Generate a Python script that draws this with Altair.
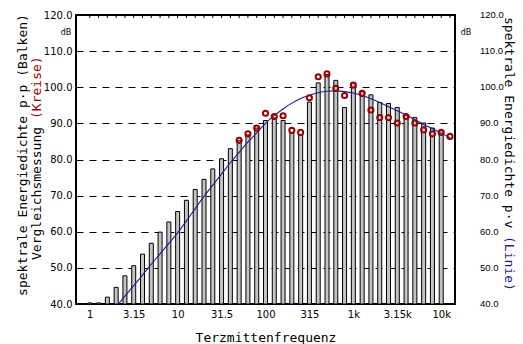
import altair as alt
import pandas as pd

# third-octave band index 0 = 1 Hz ... 40 = 10 kHz
x_tick_labels = ["1", "3.15", "10", "31.5", "100", "315", "1k", "3.15k", "10k"]
x_tick_values = [0, 5, 10, 15, 20, 25, 30, 35, 40]
y_tick_values = [40, 50, 60, 70, 80, 90, 100, 110, 120]

bar_idx = list(range(0, 41))
bar_db = [40.3, 40.3, 41.9, 44.6, 47.8, 50.6, 53.8, 56.8, 59.9, 62.7,
          65.6, 68.7, 71.7, 74.5, 77.4, 80.2, 83.0, 85.2, 86.8, 88.7,
          90.8, 91.5, 90.8, 87.3, 86.8, 95.9, 101.2, 103.5, 101.9, 94.4,
          101.3, 98.8, 97.9, 95.8, 95.5, 94.4, 92.3, 91.6, 90.1, 88.7,
          88.0]

circle_idx = list(range(17, 42))
circle_db = [85.3, 87.1, 88.7, 92.8, 91.9, 92.1, 88.1, 87.5, 97.1, 102.9,
             103.7, 99.7, 97.7, 100.6, 98.3, 93.7, 91.6, 91.6, 90.1, 91.9,
             90.1, 88.2, 87.1, 87.5, 86.4]

line_idx = list(range(3, 42))
line_db = [39.2, 42.2, 45.1, 48.0, 51.0, 53.9, 56.8, 59.7, 63.0, 66.4,
           69.8, 72.9, 76.0, 79.1, 82.0, 84.8, 87.4, 90.0, 92.2, 94.0,
           95.6, 96.9, 97.8, 98.5, 98.9, 99.0, 98.8, 98.4, 97.7, 96.8,
           95.8, 94.6, 93.5, 92.3, 91.0, 89.7, 88.5, 87.3, 86.0]

top_tick_idx = list(range(0, 42))

bars_df = pd.DataFrame({"idx": bar_idx, "db": bar_db, "base": [40.0] * len(bar_idx)})
circ_df = pd.DataFrame({"idx": circle_idx, "db": circle_db})
line_df = pd.DataFrame({"idx": line_idx, "db": line_db})
ticks_df = pd.DataFrame({"idx": top_tick_idx})
ylab_df = pd.DataFrame({"db": y_tick_values, "lab": ["%.1f" % v for v in y_tick_values]})
one = pd.DataFrame({"a": [0]})

XDOM = [-1, 41]
YDOM = [40, 120]
MONO = "DejaVu Sans Mono"
LBL = "DejaVu Sans"
RED = "#990000"
BLUE = "#1c1c96"

label_expr = "[" + ",".join('"%s"' % s for s in x_tick_labels) + "][round(datum.value/5)]"

xaxis = alt.Axis(values=x_tick_values, labelExpr=label_expr, domain=False,
                 ticks=False, grid=False, labelFont=LBL, labelFontSize=10,
                 labelColor="black", labelPadding=5,
                 title="Terzmittenfrequenz", titleFont=MONO, titleFontSize=13,
                 titleFontWeight="normal", titleColor="black", titlePadding=12)
yaxis = alt.Axis(values=y_tick_values, format=".1f", orient="left",
                 domain=False, ticks=False, grid=True, gridColor="black",
                 gridDash=[7, 6], gridWidth=1, labelFont=LBL, labelFontSize=10,
                 labelColor="black", labelPadding=4, labelOverlap=False, title=None)


def xenc():
    return alt.X("idx:Q", scale=alt.Scale(domain=XDOM, nice=False, zero=False), axis=xaxis)


def yenc():
    return alt.Y("db:Q", scale=alt.Scale(domain=YDOM, nice=False, zero=False), axis=yaxis)


bars = alt.Chart(bars_df).mark_bar(size=4, fill="#c4c4c4", stroke="black", strokeWidth=1).encode(
    x=xenc(), y=yenc(), y2="base:Q",
)

line = alt.Chart(line_df).mark_line(color=BLUE, strokeWidth=1.1, clip=True, interpolate="monotone").encode(
    x=xenc(), y=yenc(),
)

circles = alt.Chart(circ_df).mark_point(shape="circle", filled=False, stroke=RED,
                                        strokeWidth=2, size=26, opacity=1).encode(
    x=xenc(), y=yenc(),
)

top_ticks = alt.Chart(ticks_df).mark_rule(color="black", strokeWidth=1).encode(
    x=xenc(), y=alt.value(0), y2=alt.value(3)
)

# right-hand value labels (same dB scale)
right_labels = alt.Chart(ylab_df).mark_text(align="left", baseline="middle", font="Liberation Sans",
                                            fontSize=9.5, color="black").encode(
    x=alt.value(404), y=yenc(), text="lab:N"
)


def txt(text, x, y, angle=0, align="center", color="black", font=MONO, size=13, baseline="middle"):
    return alt.Chart(one).mark_text(text=text, angle=angle, align=align, baseline=baseline,
                                    color=color, font=font, fontSize=size).encode(
        x=alt.value(x), y=alt.value(y))


texts = [
    txt("spektrale Energiedichte p·p (Balken)", -53, 140, angle=270),
    txt("Vergleichsmessung", -39, 245, angle=270, align="left"),
    txt("(Kreise)", -39, 104, angle=270, align="left", color=RED),
    txt("spektrale Energiedichte p·v", 433, 2, angle=90, align="left"),
    txt("(Linie)", 433, 221, angle=90, align="left", color=BLUE),
    txt("dB", -10, 18, font=LBL, size=8),
    txt("dB", 390, 18, font=LBL, size=8),
]

chart = alt.layer(bars, top_ticks, line, circles, right_labels, *texts).properties(
    width=379, height=289,
    autosize=alt.AutoSizeParams(type="none"),
    padding={"left": 76, "top": 15, "right": 68, "bottom": 40},
    background="white",
).configure_view(stroke="black", strokeWidth=2)

chart.save("out.html", embed_options={"renderer": "svg", "actions": False})
